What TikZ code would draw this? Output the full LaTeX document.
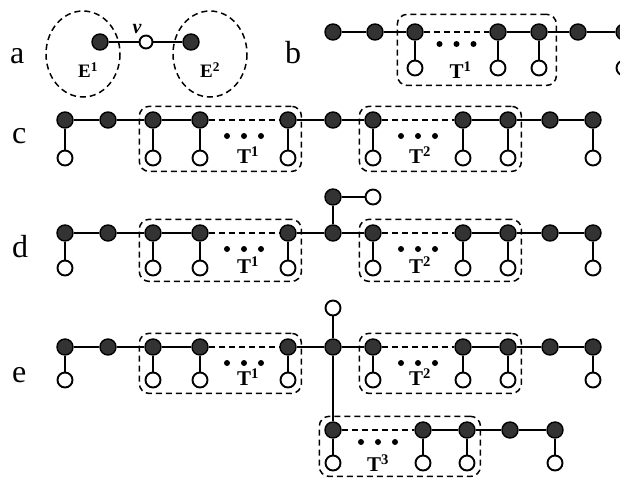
\documentclass[tikz,border=0pt]{standalone}
\usepackage{fontspec}
\setmainfont{Liberation Serif}
\usetikzlibrary{calc,fit}

\begin{document}
\begin{tikzpicture}[x=1pt, y=-1pt,
	fnode/.style={circle, draw, fill=black!80, line width=1.4pt, minimum size=16pt, inner sep=0pt},
	onode/.style={circle, draw, fill=white, line width=1.9pt, minimum size=15pt, inner sep=0pt},
	edge/.style={line width=2pt},
	tbox/.style={draw, dash pattern=on 6pt off 4pt, line width=1.5pt, rounded corners=10pt, inner sep=5pt},
	hull/.style={dash pattern=on 6pt off 4pt, line width=1.5pt},
	panel/.style={font=\fontsize{32}{34}\selectfont, anchor=base west, inner sep=0pt},
	tlabel/.style={font=\bfseries\fontsize{21}{22}\selectfont}]
	\useasboundingbox (0,0) rectangle (620,483);
	\clip (0,0) rectangle (620,483);
	% panel labels
	\node[panel] (la) at (10,63) {a};
	\node[panel] (lb) at (285,63) {b};
	\node[panel] (lc) at (12,143) {c};
	\node[panel] (ld) at (12,257) {d};
	\node[panel] (le) at (12,382) {e};
	% a: the two parts joined at v
	\draw[hull] (83,54) ellipse [x radius=37, y radius=43];
	\draw[hull] (210,54) ellipse [x radius=37, y radius=43];
	\node[fnode] (a1) at (100,42) {};
	\node[onode, minimum size=13pt] (av) at (146,42) {};
	\node[fnode] (a2) at (191,42) {};
	\draw[edge] (a1) -- (av) -- (a2);
	\node[font=\bfseries\itshape\fontsize{20}{20}\selectfont] (nu) at (137,29) {ν};
	\node[font=\bfseries\fontsize{19}{20}\selectfont] (E1) at (88,70) {E\textsuperscript{1}};
	\node[font=\bfseries\fontsize{19}{20}\selectfont] (E2) at (210,70) {E\textsuperscript{2}};
	% b
	\foreach \i/\x in {1/333,2/375,3/415,4/498,5/539,6/578,7/624}
		\node[fnode] (b\i) at (\x,32) {};
	\foreach \i in {3,4,5,7} {
		\node[onode] (b\i o) at ($(b\i)+(0,36)$) {};
		\draw[edge] (b\i) -- (b\i o);
	}
	\draw[edge] (b1) -- (b2) -- (b3);
	\draw[edge, dash pattern=on 6pt off 4pt] (b3) -- (b4);
	\draw[edge] (b4) -- (b5) -- (b6) -- (b7);
	\node[tbox, inner sep=9pt, fit=(b3)(b5o)] (bT1) {};
	\foreach \dx in {-17,0,17}
		\fill ($(b3)!.5!(b4)+(\dx,12)$) circle (3);
	\node[tlabel] (bt1) at ($(b3o)!.5!(b4o)+(4,2)$) {T\textsuperscript{1}};
	% c, d, e share the long chain
	\foreach \r/\y/\d in {c/120/38,d/233/35,e/347/33} {
		\foreach \i/\x in {1/65,2/108,3/153,4/200,5/288,6/333,7/373,8/463,9/508,10/550,11/593}
			\node[fnode] (\r\i) at (\x,\y) {};
		\foreach \i in {1,3,4,5,7,8,9,11} {
			\path (\r\i) ++(0,\d) node[onode] (\r\i o) {};
			\draw[edge] (\r\i) -- (\r\i o);
		}
		\draw[edge] (\r1) -- (\r2) -- (\r3) -- (\r4);
		\draw[edge, dash pattern=on 6pt off 4pt] (\r4) -- (\r5);
		\draw[edge] (\r5) -- (\r6) -- (\r7);
		\draw[edge, dash pattern=on 6pt off 4pt] (\r7) -- (\r8);
		\draw[edge] (\r8) -- (\r9) -- (\r10) -- (\r11);
		\node[tbox, fit=(\r3)(\r5o)] (\r T1) {};
		\node[tbox, fit=(\r7)(\r9o)] (\r T2) {};
		\foreach \dx in {-17,0,17} {
			\fill ($(\r4)!.5!(\r5)+(\dx,16)$) circle (3);
			\fill ($(\r7)!.5!(\r8)+(\dx,16)$) circle (3);
		}
		\node[tlabel] (\r t1) at ($(\r4o)!.5!(\r5o)+(4,-3)$) {T\textsuperscript{1}};
		\node[tlabel] (\r t2) at ($(\r7o)!.5!(\r8o)+(2,-3)$) {T\textsuperscript{2}};
	}
	% d: extra branch
	\node[fnode] (d6u) at ($(d6)+(0,-36)$) {};
	\node[onode] (d6r) at ($(d6u)+(40,0)$) {};
	\draw[edge] (d6) -- (d6u) -- (d6r);
	% e: extra branch and T3
	\node[onode] (e6u) at ($(e6)+(0,-39)$) {};
	\foreach \i/\x in {1/333,2/423,3/467,4/510,5/555}
		\node[fnode] (f\i) at (\x,430) {};
	\foreach \i in {1,2,3,5} {
		\node[onode] (f\i o) at ($(f\i)+(0,33)$) {};
		\draw[edge] (f\i) -- (f\i o);
	}
	\draw[edge] (e6u) -- (e6) -- (f1);
	\draw[edge, dash pattern=on 6pt off 4pt] (f1) -- (f2);
	\draw[edge] (f2) -- (f3) -- (f4) -- (f5);
	\node[tbox, fit=(f1)(f3o)] (fT3) {};
	\foreach \dx in {-17,0,17}
		\fill ($(f1)!.5!(f2)+(\dx,12)$) circle (3);
	\node[tlabel] (ft3) at ($(f1o)!.5!(f2o)+(0,0)$) {T\textsuperscript{3}};
\end{tikzpicture}
\end{document}
